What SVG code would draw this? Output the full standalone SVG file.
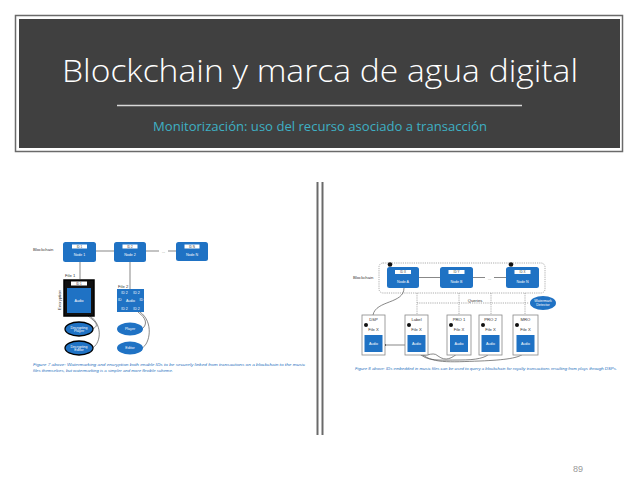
<svg xmlns="http://www.w3.org/2000/svg" width="638" height="479" viewBox="0 0 638 479">
<defs>
<style>
.t{font-family:"Liberation Sans",Arial,sans-serif}
.node rect.b{fill:#1f72c4}
.nt{font-family:"Liberation Sans",Arial,sans-serif;font-size:3.6px;fill:#fff;text-anchor:middle}
.lbl{font-family:"Liberation Sans",Arial,sans-serif;font-size:4.2px;fill:#333;text-anchor:middle}
.idw{fill:#fff}
.idt{font-family:"Liberation Sans",Arial,sans-serif;font-size:3px;fill:#333;text-anchor:middle}
.cap{font-family:"Liberation Sans",Arial,sans-serif;font-size:3.9px;fill:#2a72c0;font-style:italic}
.conn{fill:none;stroke:#555;stroke-width:0.7}
.dot{fill:none;stroke:#777;stroke-width:0.6;stroke-dasharray:1.2 1}
.wbox{fill:#fff;stroke:#888;stroke-width:0.8}
.num{fill:#111}
</style>
<marker id="ah" viewBox="0 0 6 6" refX="5" refY="3" markerWidth="4" markerHeight="4" orient="auto"><path d="M0,0L6,3L0,6z" fill="#333"/></marker>
</defs>
<rect width="638" height="479" fill="#fff"/>
<g id="header">
<rect x="15.5" y="15.5" width="607" height="136" fill="#fff" stroke="#6a6a6a" stroke-width="1.5"/>
<rect x="19" y="19" width="601" height="129" fill="#404040"/>
<text x="320" y="82" font-size="31" font-weight="300" fill="#fff" text-anchor="middle" textLength="516" lengthAdjust="spacingAndGlyphs" font-family="'Open Sans','Liberation Sans',sans-serif">Blockchain y marca de agua digital</text>
<line x1="117" y1="105.5" x2="522" y2="105.5" stroke="#d8d8d8" stroke-width="1.3"/>
<text x="320" y="131" font-size="12.5" fill="#3eb0c4" text-anchor="middle" textLength="334" lengthAdjust="spacingAndGlyphs" font-family="'Open Sans','Liberation Sans',sans-serif">Monitorización: uso del recurso asociado a transacción</text>
</g>
<g id="divider" stroke="#6a6a6a" stroke-width="2">
<line x1="317.5" y1="182" x2="317.5" y2="435"/>
<line x1="322.5" y1="182" x2="322.5" y2="435"/>
</g>
<text x="583" y="472" class="t" font-size="9" fill="#999" text-anchor="end">89</text>

<!-- LEFT FIGURE -->
<g id="left-connectors">
<line class="conn" x1="96" y1="251" x2="114" y2="251"/>
<line class="conn" x1="146" y1="251" x2="159" y2="251"/>
<line class="conn" x1="168" y1="251" x2="176" y2="251"/>
<text x="163.5" y="253" class="lbl" font-size="4">...</text>
<line class="conn" x1="80" y1="262" x2="80" y2="279"/>
<line class="conn" x1="130" y1="262" x2="130" y2="289"/>
<path class="conn" d="M88,316 C96,322 100,326 92,329"/>
<path class="conn" d="M90,316 C104,326 100,345 92,348"/>
<path class="conn" d="M138,312 C146,318 148,324 142,329"/>
<path class="conn" d="M140,312 C154,322 150,344 142,348"/>
</g>
<text x="33" y="251" class="lbl" style="text-anchor:start">Blockchain</text>
<g id="node1" class="node"><rect class="b" x="63" y="242" width="33" height="20" rx="2.5"/><rect class="idw" x="72" y="244.5" width="15" height="4"/><text class="idt" x="79.5" y="247.5">ID 1</text><text class="nt" x="79.5" y="256">Node 1</text></g>
<g id="node2" class="node"><rect class="b" x="114" y="242" width="32" height="20" rx="2.5"/><rect class="idw" x="122.5" y="244.5" width="15" height="4"/><text class="idt" x="130" y="247.5">ID 2</text><text class="nt" x="130" y="256">Node 2</text></g>
<g id="nodeN" class="node"><rect class="b" x="176" y="242" width="32" height="19" rx="2.5"/><rect class="idw" x="184.5" y="244.5" width="15" height="4"/><text class="idt" x="192" y="247.5">ID N</text><text class="nt" x="192" y="256">Node N</text></g>
<g id="file1">
<text x="65" y="277" class="lbl" style="text-anchor:start">File 1</text>
<text class="lbl" transform="translate(60.5,300) rotate(-90)" font-size="3.6">Encryption</text>
<rect x="64" y="280" width="30" height="36" fill="#111" stroke="#000" stroke-width="1.5"/>
<rect class="idw" x="71" y="281.5" width="16" height="4"/><text class="idt" x="79" y="284.6">ID 1</text>
<rect x="67" y="288" width="24" height="25" fill="#1f72c4"/>
<text class="nt" x="79" y="301.5">Audio</text>
</g>
<g id="file2">
<text x="118" y="287.5" class="lbl" style="text-anchor:start">File 2</text>
<rect x="117" y="289" width="27" height="23" fill="#1f72c4"/>
<text class="nt" x="130.5" y="301.5">Audio</text>
<text class="nt" x="124.5" y="293.5" font-size="2.2">ID 2</text><text class="nt" x="136.5" y="293.5" font-size="2.2">ID 2</text>
<text class="nt" x="119.8" y="301.3" font-size="2.2">ID</text><text class="nt" x="141.3" y="301.3" font-size="2.2">ID</text>
<text class="nt" x="124.5" y="309.5" font-size="2.2">ID 2</text><text class="nt" x="136.5" y="309.5" font-size="2.2">ID 2</text>
</g>
<g id="dec-player"><ellipse cx="79" cy="329" rx="14" ry="7" fill="#1f72c4" stroke="#000" stroke-width="1.3"/><text class="nt" x="79" y="328.5" font-size="3">Decrypting</text><text class="nt" x="79" y="332" font-size="3">Player</text></g>
<g id="dec-editor"><ellipse cx="79" cy="348" rx="14" ry="7" fill="#1f72c4" stroke="#000" stroke-width="1.3"/><text class="nt" x="79" y="347.5" font-size="3">Decrypting</text><text class="nt" x="79" y="351" font-size="3">Editor</text></g>
<g id="player"><ellipse cx="130" cy="329" rx="13" ry="6.5" fill="#1f72c4"/><text class="nt" x="130" y="330">Player</text></g>
<g id="editor"><ellipse cx="130" cy="348" rx="13" ry="6.5" fill="#1f72c4"/><text class="nt" x="130" y="349">Editor</text></g>
<text class="cap" x="33" y="366" textLength="272" lengthAdjust="spacingAndGlyphs">Figure 7 above: Watermarking and encryption both enable IDs to be securely linked from transactions on a blockchain to the music</text>
<text class="cap" x="33" y="372" textLength="140" lengthAdjust="spacingAndGlyphs">files themselves, but watermarking is a simpler and more flexible scheme.</text>

<!-- RIGHT FIGURE -->
<text x="353" y="279" class="lbl" style="text-anchor:start">Blockchain</text>
<g id="right-connectors">
<rect x="379" y="263" width="166" height="30" rx="4" fill="none" stroke="#777" stroke-width="0.6" stroke-dasharray="1.2 1"/>
<line class="conn" x1="419" y1="277.5" x2="440" y2="277.5"/>
<line class="conn" x1="473" y1="277.5" x2="485" y2="277.5"/>
<line class="conn" x1="494" y1="277.5" x2="506" y2="277.5"/>
<text x="489.5" y="280" class="lbl">...</text>
<line class="dot" x1="417" y1="303" x2="529" y2="303"/>
<line class="dot" x1="417" y1="293" x2="417" y2="315"/>
<line class="dot" x1="459" y1="293" x2="459" y2="315"/>
<line class="dot" x1="491" y1="293" x2="491" y2="315"/>
<line class="dot" x1="525" y1="293" x2="525" y2="315"/>
<text x="475" y="301.5" class="lbl" font-size="3.6">Queries</text>
<path class="conn" d="M404,288 C404,304 376,300 373,315"/>
<line class="conn" x1="409" y1="345" x2="384" y2="345" marker-end="url(#ah)"/>
<path class="conn" d="M416,352 C424,360 432,350 438,356 C446,362 452,358 458,353"/>
<path class="conn" d="M418,352 C426,362 440,360 460,360 C476,360 486,358 490,353"/>
<path class="conn" d="M420,352 C430,364 450,362 480,361 C505,360 520,358 524,353"/>
</g>
<g id="nodeA" class="node"><rect class="b" x="387" y="267" width="32" height="21" rx="2.5"/><rect class="idw" x="395" y="270" width="16" height="4"/><text class="idt" x="403" y="273">ID X</text><text class="nt" x="403" y="283">Node A</text><circle class="num" cx="390" cy="264.5" r="2.3"/></g>
<g id="nodeB" class="node"><rect class="b" x="440" y="267" width="33" height="21" rx="2.5"/><rect class="idw" x="448.5" y="270" width="16" height="4"/><text class="idt" x="456.5" y="273">ID Y</text><text class="nt" x="456.5" y="283">Node B</text></g>
<g id="nodeNr" class="node"><rect class="b" x="506" y="267" width="33" height="21" rx="2.5"/><rect class="idw" x="514.5" y="270" width="16" height="4"/><text class="idt" x="522.5" y="273">ID X</text><text class="nt" x="522.5" y="283">Node N</text><circle class="num" cx="511" cy="264.5" r="2.3"/></g>
<g id="detector"><ellipse cx="543" cy="303" rx="13" ry="7" fill="#1f72c4"/><text class="nt" x="543" y="302" font-size="3">Watermark</text><text class="nt" x="543" y="306" font-size="3">Detector</text></g>
<g id="dsp"><rect class="wbox" x="362" y="315" width="23" height="40"/><text class="lbl" x="373.5" y="320.5">DSP</text><circle class="num" cx="366" cy="325" r="2"/><text class="lbl" x="373.5" y="331">File X</text><rect x="364.5" y="335" width="18" height="17" fill="#1f72c4"/><text class="nt" x="373.5" y="345">Audio</text></g>
<g id="label"><rect class="wbox" x="405" y="315" width="23" height="40"/><text class="lbl" x="416.5" y="320.5">Label</text><circle class="num" cx="409" cy="325" r="2"/><text class="lbl" x="416.5" y="331">File X</text><rect x="407.5" y="335" width="18" height="17" fill="#1f72c4"/><text class="nt" x="416.5" y="345">Audio</text></g>
<g id="pro1"><rect class="wbox" x="447" y="315" width="24" height="40"/><text class="lbl" x="459" y="320.5">PRO 1</text><circle class="num" cx="451" cy="325" r="2"/><text class="lbl" x="459" y="331">File X</text><rect x="450" y="335" width="18" height="17" fill="#1f72c4"/><text class="nt" x="459" y="345">Audio</text></g>
<g id="pro2"><rect class="wbox" x="479" y="315" width="23" height="40"/><text class="lbl" x="490.5" y="320.5">PRO 2</text><circle class="num" cx="483" cy="325" r="2"/><text class="lbl" x="490.5" y="331">File X</text><rect x="481.5" y="335" width="18" height="17" fill="#1f72c4"/><text class="nt" x="490.5" y="345">Audio</text></g>
<g id="mro"><rect class="wbox" x="513" y="315" width="25" height="40"/><text class="lbl" x="525.5" y="320.5">MRO</text><circle class="num" cx="517" cy="325" r="2"/><text class="lbl" x="525.5" y="331">File X</text><rect x="516.5" y="335" width="18" height="17" fill="#1f72c4"/><text class="nt" x="525.5" y="345">Audio</text></g>
<text class="cap" x="355" y="370" textLength="262" lengthAdjust="spacingAndGlyphs">Figure 8 above: IDs embedded in music files can be used to query a blockchain for royalty transactions resulting from plays through DSPs.</text>
</svg>
